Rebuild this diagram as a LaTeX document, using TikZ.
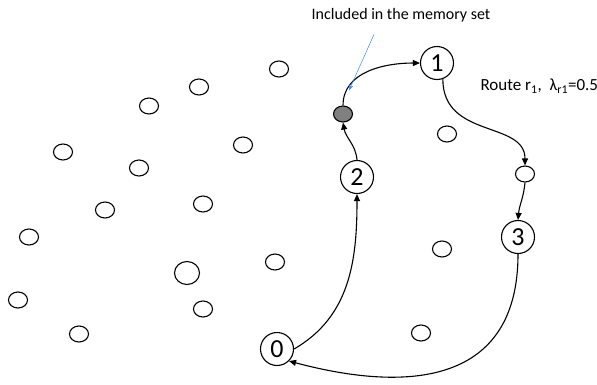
\documentclass[tikz,border=0pt]{standalone}
\usepackage{fontspec}
\setmainfont{Carlito}
\usetikzlibrary{shapes,arrows.meta,positioning,calc}

\begin{document}
\begin{tikzpicture}[
    x=1pt, y=-1pt,
    stop/.style={circle, draw, line width=1.1pt, minimum size=33pt, inner sep=0pt, font=\fontsize{26}{26}\selectfont},
    city/.style={ellipse, draw, line width=1.1pt, minimum width=19pt, minimum height=16pt, inner sep=0pt},
    memory/.style={city, fill=black!50},
    arrow/.style={-{Triangle[length=7pt,width=6pt]}, line width=1.1pt},
    note/.style={-{Stealth[length=6pt,width=4pt]}, draw=blue!55!cyan!80, line width=0.5pt},
    label/.style={font=\fontsize{16}{16}\selectfont}
]
\useasboundingbox (0,0) rectangle (597,384);

% Customers not on the route
\foreach \x/\y [count=\i] in {279/69, 199/87, 149/106, 63/152, 243/145, 139/168,
    105/210, 203/204, 29/237, 275/262, 18/300, 203/309, 79/334,
    447/134, 442/249, 421/333}
  \node[city] (c\i) at (\x,\y) {};
\node[city, minimum width=25pt, minimum height=23pt] (big) at (187,273) {};

% Route stops
\node[stop] (n0) at (277,349) {0};
\node[stop] (n1) at (437,63) {1};
\node[stop] (n2) at (357,177) {2};
\node[stop] (n3) at (518,237) {3};
\node[memory] (mem) at (343,114) {};
\node[city] (via) at (525,174) {};

% Route r1
\draw[arrow] (n0.east) to[out=30, in=-90] (n2.south);
\draw[arrow] (n2.north) to[out=95, in=-80] (mem.south);
\draw[arrow] (mem.north) to[out=90, in=180] (n1.west);
\draw[arrow] (n1.-70) .. controls +(0,60) and +(0,-45) .. (via.north);
\draw[arrow] (via.south) to[out=-95, in=85] (n3.north);
\draw[arrow] (n3.south) .. controls +(0,130) and +(120,32) .. (n0.-45);

% Labels
\node[label] (memtxt) at (401,15) {Included in the memory set};
\node[label, anchor=west, font=\fontsize{17}{17}\selectfont] (route) at (477,86) {Route r\textsubscript{1},\ \ λ\textsubscript{r1}=0.5};
\draw[note] ([xshift=-27pt,yshift=-9pt]memtxt.south) -- ([xshift=6pt,yshift=15pt]mem.north);

\end{tikzpicture}
\end{document}
